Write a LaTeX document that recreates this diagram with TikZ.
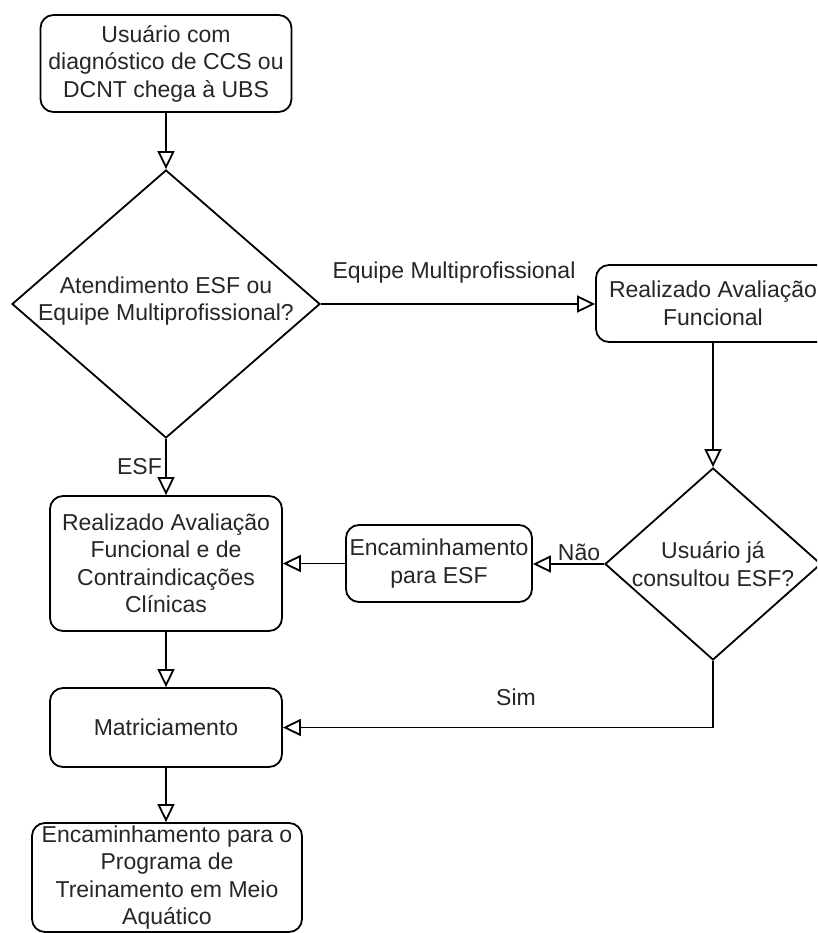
\documentclass[tikz,border=0pt]{standalone}
\usepackage{fontspec}
\setmainfont{Liberation Sans}
\usetikzlibrary{arrows.meta,shapes.geometric}
\tikzset{
  box/.style={draw=black, line width=1.8pt, rounded corners=13pt, inner sep=0pt, align=center, text=black!85, font=\fontsize{23}{27.5}\selectfont},
  diam/.style={draw=black, line width=1.8pt, diamond, inner sep=0pt},
  txt/.style={align=center, inner sep=0pt, text=black!85, font=\fontsize{23}{27.5}\selectfont},
  arr/.style={line width=1.8pt, draw=black, -{Triangle[open,length=18pt,width=17pt,line width=1.8pt]}},
}
\begin{document}
\begin{tikzpicture}[x=1pt,y=-1pt]
\clip (0,0) rectangle (817,933);
\fill[white] (0,0) rectangle (817,933);
% nodes
\node[box, minimum width=251pt, minimum height=97pt] (b1) at (166,63.5) {Usuário com\\diagnóstico de CCS ou\\DCNT chega à UBS};
\node[diam, minimum width=308pt, minimum height=268pt] (d1) at (166,304) {};
\node[txt] (d1t) at (166,301) {Atendimento ESF ou\\Equipe Multiprofissional?};
\node[box, minimum width=234pt, minimum height=77pt] (b3) at (713,303.5) {Realizado Avaliação\\Funcional};
\node[diam, minimum width=216pt, minimum height=192pt] (d2) at (713,564) {};
\node[txt] (d2t) at (713,564) {Usuário já\\consultou ESF?};
\node[box, minimum width=186pt, minimum height=77pt] (b5) at (439,563.5) {Encaminhamento\\para ESF};
\node[box, minimum width=232pt, minimum height=135pt] (b6) at (166,563.5) {Realizado Avaliação\\Funcional e de\\Contraindicações\\Clínicas};
\node[box, minimum width=232pt, minimum height=79pt] (b7) at (166,727.5) {Matriciamento};
\node[box, minimum width=270pt, minimum height=109pt] (b8) at (167,877.5) {Encaminhamento para o\\Programa de\\Treinamento em Meio\\Aquático};
% connectors
\draw[arr] (b1.south -| d1.north) -- (d1.north);
\draw[arr] (d1.east) -- (d1.east -| b3.west);
\draw[arr] (b3.south) -- (b3.south |- d2.north);
\draw[arr] (d2.west) -- (d2.west -| b5.east);
\draw[arr] (b5.west) -- (b5.west -| b6.east);
\draw[arr] (d1.south) -- (d1.south |- b6.north);
\draw[arr] (b6.south) -- (b6.south |- b7.north);
\draw[arr] (d2.south) |- (b7.east);
\draw[arr] (b7.south) -- (b7.south |- b8.north);
% labels
\node[txt] (l1) at (454,273) {Equipe Multiprofissional};
\node[txt, anchor=east] (l2) at (162,467) {ESF};
\node[txt] (l3) at (579,552) {Não};
\node[txt] (l4) at (516,697) {Sim};
\end{tikzpicture}
\end{document}
